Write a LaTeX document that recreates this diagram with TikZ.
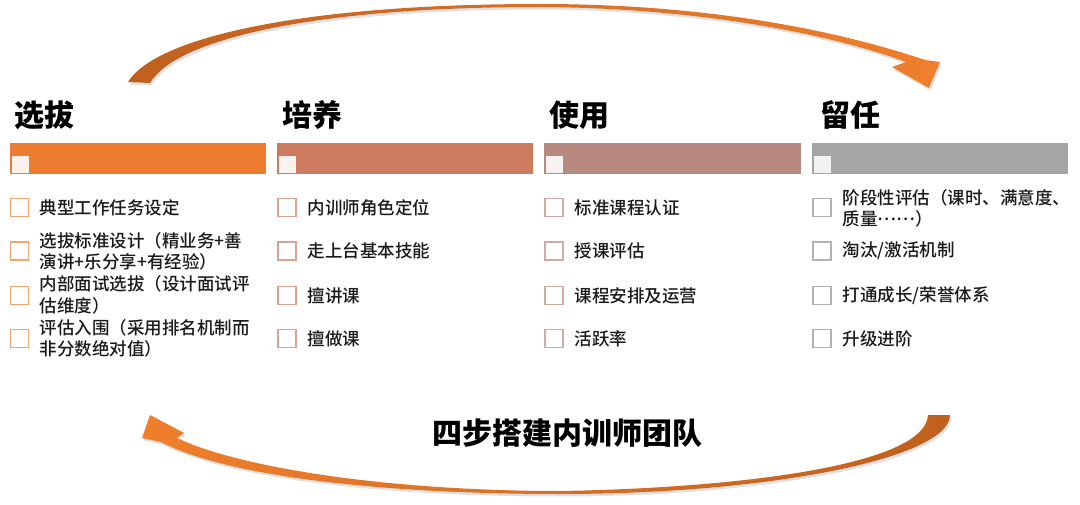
\documentclass[tikz,border=0pt]{standalone}
\usepackage{fontspec}
\newfontfamily\cjk{Noto Sans CJK SC Medium}
\newfontfamily\cjkblack{Noto Sans CJK SC Black}
\definecolor{cA}{HTML}{ED7D31}
\definecolor{cB}{HTML}{CC7B5F}
\definecolor{cC}{HTML}{B8897F}
\definecolor{cD}{HTML}{A5A5A5}
\definecolor{arrDark}{HTML}{C0601E}
\definecolor{arrLight}{HTML}{EF7F2C}
\definecolor{txt}{HTML}{1A1A1A}
\begin{document}
\begin{tikzpicture}[x=1pt,y=-1pt,
  head/.style={anchor=west,inner sep=0pt,text=black,font=\cjkblack\fontsize{30}{32}\selectfont},
  item/.style={anchor=west,inner sep=0pt,align=left,text=txt,font=\cjk\fontsize{17.5}{21.5}\selectfont},
  cbox/.style={draw=#1,line width=1.4pt,minimum size=18pt,inner sep=0pt,fill=white},
  bar/.style={fill=#1,draw=none},
  tab/.style={fill=#1,draw=none,minimum width=17pt,minimum height=17pt,inner sep=0pt},
  title/.style={inner sep=0pt,text=black,font=\cjkblack\fontsize{30}{32}\selectfont},
  shadowed/.style={preaction={fill=black,opacity=0.12,transform canvas={shift={(1.5pt,-2.5pt)}}}}
]
\useasboundingbox (0,0) rectangle (1080,505);
\fill[white] (0,0) rectangle (1080,505);

% ---------- top curved arrow ----------
\path[shadowed,left color=arrDark,right color=arrLight]
  (128,82) .. controls (155,38) and (300,4) .. (540,4)
  .. controls (700,4) and (830,28) .. (925,60)
  -- (940,62) -- (929,88) -- (892,67) -- (906,62)
  .. controls (830,34) and (700,8) .. (540,7)
  .. controls (310,7) and (175,40) .. (150,83) -- cycle;

% ---------- bottom curved arrow ----------
\path[shadowed,left color=arrLight,right color=arrDark]
  (950,415) .. controls (950,458) and (770,494) .. (560,494)
  .. controls (380,494) and (225,476) .. (161,442)
  -- (142,438) -- (150,415) -- (184,433) -- (177,438)
  .. controls (240,468) and (390,491) .. (560,491)
  .. controls (740,488) and (926,465) .. (928,415) -- cycle;

% ---------- headings ----------
\node[head] (h1) at (14,115) {选拔};
\node[head] (h2) at (282,115) {培养};
\node[head] (h3) at (549,115) {使用};
\node[head] (h4) at (820,115) {留任};

% ---------- bars ----------
\fill[bar=cA] (10,143) rectangle (266,174);
\fill[bar=cB] (277,143) rectangle (533,174);
\fill[bar=cC] (544,143) rectangle (801,174);
\fill[bar=cD] (812,143) rectangle (1068,174);
\node[tab={cA!10!white}] (t1) at (20.2,164.2) {};
\node[tab={cB!10!white}] (t2) at (287.2,164.2) {};
\node[tab={cC!10!white}] (t3) at (554.2,164.2) {};
\node[tab={cD!15!white}] (t4) at (822.2,164.2) {};

% ---------- column 1 ----------
\node[cbox={cA!70!white}] (b11) at (19.7,207.5) {};
\node[cbox={cA!70!white}] (b12) at (19.7,251) {};
\node[cbox={cA!70!white}] (b13) at (19.7,295.5) {};
\node[cbox={cA!70!white}] (b14) at (19.7,338.5) {};
\node[item] (i11) at (39.5,207.5) {典型工作任务设定};
\node[item] (i12) at (39.5,251.5) {选拔标准设计（精业务+善\\演讲+乐分享+有经验）};
\node[item] (i13) at (39.5,295) {内部面试选拔（设计面试评\\估维度）};
\node[item] (i14) at (39.5,338.5) {评估入围（采用排名机制而\\非分数绝对值）};

% ---------- column 2 ----------
\node[cbox={cB!70!white}] (b21) at (287,207.5) {};
\node[cbox={cB!70!white}] (b22) at (287,251) {};
\node[cbox={cB!70!white}] (b23) at (287,295.5) {};
\node[cbox={cB!70!white}] (b24) at (287,338.5) {};
\node[item] (i21) at (307.5,207.5) {内训师角色定位};
\node[item] (i22) at (307.5,251) {走上台基本技能};
\node[item] (i23) at (307.5,295.5) {擅讲课};
\node[item] (i24) at (307.5,338.5) {擅做课};

% ---------- column 3 ----------
\node[cbox={cC!70!white}] (b31) at (554,207.5) {};
\node[cbox={cC!70!white}] (b32) at (554,251) {};
\node[cbox={cC!70!white}] (b33) at (554,295.5) {};
\node[cbox={cC!70!white}] (b34) at (554,338.5) {};
\node[item] (i31) at (574.5,207.5) {标准课程认证};
\node[item] (i32) at (574.5,251) {授课评估};
\node[item] (i33) at (574.5,295.5) {课程安排及运营};
\node[item] (i34) at (574.5,338.5) {活跃率};

% ---------- column 4 ----------
\node[cbox={cD!85!white}] (b41) at (822,207.5) {};
\node[cbox={cD!85!white}] (b42) at (822,251) {};
\node[cbox={cD!85!white}] (b43) at (822,295.5) {};
\node[cbox={cD!85!white}] (b44) at (822,338.5) {};
\node[item] (i41) at (842.5,208.5) {阶段性评估（课时、满意度、\\质量\raisebox{0.32em}{……}）};
\node[item] (i42) at (842.5,251) {淘汰/激活机制};
\node[item] (i43) at (842.5,295.5) {打通成长/荣誉体系};
\node[item] (i44) at (842.5,338.5) {升级进阶};

% ---------- title ----------
\node[title] (ttl) at (567,433) {四步搭建内训师团队};
\end{tikzpicture}
\end{document}
